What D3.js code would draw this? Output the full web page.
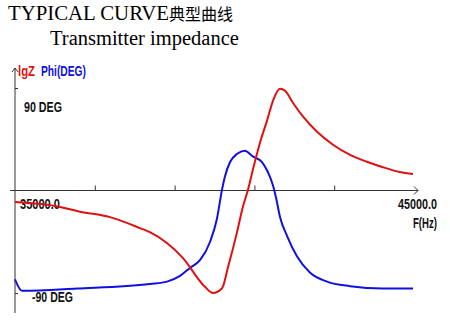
<!DOCTYPE html>
<html>
<head>
<meta charset="utf-8">
<script src="https://cdn.jsdelivr.net/npm/d3@7"></script>
<style>
  body { margin: 0; background: #fff; }
  .lbl { font-family: "Liberation Sans", Arial, sans-serif; font-size: 14px; font-weight: bold; }
</style>
</head>
<body>
<div class="visHolder"></div>
<script>
// frequency (Hz) / phase (deg)
const phiFreq = [35000, 35175, 36550, 38380, 38810, 39135, 39385, 39640, 39890, 40060, 40190, 40260, 40390, 40560, 40760, 40960, 41190, 41340, 41470, 41540, 41640, 41820, 42070, 42390, 42820, 43400, 44220, 44975];
const phiVals = [-78, -88, -86, -82, -80, -75, -68, -61, -45, -25, 1, 12, 25, 32, 35, 30, 25, 16, 4, -6, -23, -40, -58, -72, -80, -84, -86, -86];

// frequency (Hz) / lgZ
const zFreq = [35000, 36130, 36630, 37380, 38130, 38380, 39210, 39760, 39960, 40190, 40340, 40560, 40710, 40840, 40960, 41140, 41320, 41470, 41640, 41770, 41970, 42220, 42570, 42970, 43400, 43820, 44220, 44650, 44975];
const zVals = [3.33, 3.26, 3.19, 3.11, 2.95, 2.89, 2.51, 2.09, 2.00, 2.07, 2.38, 2.88, 3.26, 3.51, 3.80, 4.20, 4.53, 4.82, 4.99, 4.96, 4.78, 4.58, 4.36, 4.17, 4.02, 3.92, 3.84, 3.77, 3.74];

const freqTicks = [35000, 37000, 39000, 41000, 43000, 45000];
const freqLabels = ['35000.0', '45000.0'];
const phiTicks = [90, -90];
const phiLabels = ['90 DEG', '-90 DEG'];

const width = 450;
const height = 322;

const svg = d3.select('.visHolder')
  .append('svg')
  .attr('width', width)
  .attr('height', height);

// titles
svg.append('text')
  .attr('x', 8).attr('y', 20)
  .style('font-family', '"Liberation Serif", "Times New Roman", serif')
  .style('font-size', '20.8px')
  .text('TYPICAL CURVE')
  .append('tspan')
  .style('font-family', '"Noto Sans CJK SC", sans-serif')
  .style('font-size', '16px')
  .text('典型曲线');

svg.append('text')
  .attr('x', 50).attr('y', 45)
  .style('font-family', '"Liberation Serif", "Times New Roman", serif')
  .style('font-size', '20.5px')
  .text('Transmitter impedance');

const xScale = d3.scaleLinear().domain([35000, 45000]).range([15, 414]);
const phiScale = d3.scaleLinear().domain([-90, 90]).range([293, 88]);
const zScale = d3.scaleLinear().domain([2, 5]).range([293, 88]);

const x0 = xScale(35000);
const y0 = phiScale(0);

// x axis with ticks pointing up
const xAxis = d3.axisBottom(xScale).tickValues(freqTicks.slice(1, 5)).tickSize(-5).tickFormat('');
const gx = svg.append('g').attr('transform', 'translate(0,' + y0 + ')').call(xAxis);
gx.select('.domain').remove();
gx.selectAll('line').attr('stroke', '#333');
svg.append('line')
  .attr('x1', 10).attr('x2', xScale(45000) + 4)
  .attr('y1', y0).attr('y2', y0)
  .attr('stroke', '#333');
svg.append('path')
  .attr('d', 'M' + (xScale(45000)) + ',' + (y0 - 4) + 'L' + (xScale(45000) + 4) + ',' + y0 + 'L' + xScale(45000) + ',' + (y0 + 4))
  .attr('fill', 'none').attr('stroke', '#333');

// y axis
const yAxis = d3.axisRight(phiScale).tickValues(phiTicks).tickSize(3).tickFormat('');
const gy = svg.append('g').attr('transform', 'translate(' + x0 + ',0)').call(yAxis);
gy.select('.domain').remove();
gy.selectAll('line').attr('stroke', '#333');
svg.append('line')
  .attr('x1', x0).attr('x2', x0)
  .attr('y1', 68).attr('y2', 313)
  .attr('stroke', '#333');
svg.append('path')
  .attr('d', 'M' + (x0 - 3) + ',72L' + x0 + ',68L' + (x0 + 3) + ',72')
  .attr('fill', 'none').attr('stroke', '#333');

// labels, squeezed to the narrow font of the original
const lab = svg.append('g').attr('class', 'lbl');
const narrow = (sel, w) => sel.attr('textLength', w).attr('lengthAdjust', 'spacingAndGlyphs');

narrow(lab.append('text').attr('x', 18).attr('y', 76).attr('fill', '#e01010').text('lgZ'), 17);
narrow(lab.append('text').attr('x', 41).attr('y', 76).attr('fill', '#1010e0').text('Phi(DEG)'), 45);

narrow(lab.append('text').attr('x', 24).attr('y', phiScale(phiTicks[0]) + 24).attr('fill', '#111').text(phiLabels[0]), 38);
narrow(lab.append('text').attr('x', 32).attr('y', phiScale(phiTicks[1]) + 9).attr('fill', '#111').text(phiLabels[1]), 41);
narrow(lab.append('text').attr('x', 20).attr('y', y0 + 18).attr('fill', '#111').text(freqLabels[0]), 40);
narrow(lab.append('text').attr('x', 398).attr('y', y0 + 18).attr('fill', '#111').text(freqLabels[1]), 39);
narrow(lab.append('text').attr('x', 413).attr('y', y0 + 37).attr('fill', '#111').text('F(Hz)'), 24);

// curves
const zLine = d3.line()
  .x((d, i) => xScale(zFreq[i]))
  .y(d => zScale(d))
  .curve(d3.curveMonotoneX);
const phiLine = d3.line()
  .x((d, i) => xScale(phiFreq[i]))
  .y(d => phiScale(d))
  .curve(d3.curveMonotoneX);

svg.append('path')
  .attr('d', phiLine(phiVals))
  .attr('fill', 'none')
  .attr('stroke', '#1010e0')
  .attr('stroke-width', 2);

svg.append('path')
  .attr('d', zLine(zVals))
  .attr('fill', 'none')
  .attr('stroke', '#e01010')
  .attr('stroke-width', 2);
</script>
</body>
</html>
